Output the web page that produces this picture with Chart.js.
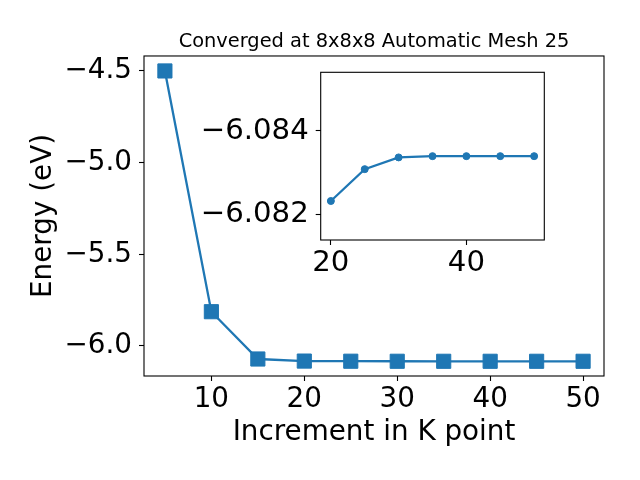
<!DOCTYPE html>
<html>
<head>
<meta charset="utf-8">
<script src="https://cdn.jsdelivr.net/npm/chart.js@4"></script>
<style>
  body { margin: 0; background: #fff; }
  #wrap { position: relative; width: 640px; height: 480px; }
  #main { position: absolute; left: 0; top: 0; }
  #inset { position: absolute; left: 180px; top: 60px; }
</style>
</head>
<body>
<div id="wrap">
  <canvas id="main" width="640" height="480"></canvas>
  <canvas id="inset" width="380" height="230"></canvas>
</div>
<script>
// DATOS
const kPoints = [5, 10, 15, 20, 25, 30, 35, 40, 45, 50];
const energies = [-4.5, -5.813, -6.071, -6.08233, -6.08309, -6.08337, -6.0834, -6.0834, -6.0834, -6.0834];
const insetKPoints = [20, 25, 30, 35, 40, 45, 50];
const insetEnergies = [-6.08233, -6.08309, -6.08337, -6.0834, -6.0834, -6.0834, -6.0834];
const mainXTicks = [10, 20, 30, 40, 50];
const mainYTicks = [-4.5, -5.0, -5.5, -6.0];
const insetXTicks = [20, 40];
const insetYTicks = [-6.084, -6.082];
// DATOS END

const azul = "#1f77b4";
Chart.defaults.font.family = "'DejaVu Sans', sans-serif";
Chart.defaults.color = "#000";

function menos(txt) {
  return String(txt).replace("-", "\u2212");
}

// marco negro alrededor del area
const marco = {
  id: "marco",
  afterDraw(chart) {
    const a = chart.chartArea;
    const ctx = chart.ctx;
    ctx.save();
    ctx.strokeStyle = "#000";
    ctx.lineWidth = 1.1;
    ctx.strokeRect(a.left, a.top, a.right - a.left, a.bottom - a.top);
    ctx.restore();
  },
};

function ejeBase(ticks, fmt, tam) {
  return {
    type: "linear",
    border: { display: false },
    grid: {
      drawOnChartArea: false,
      drawTicks: true,
      tickLength: 5,
      tickColor: "#000",
      tickWidth: 1.1,
    },
    ticks: {
      font: { size: tam },
      padding: 7,
      autoSkip: false,
      maxRotation: 0,
      callback: fmt,
    },
    afterBuildTicks: (scale) => {
      scale.ticks = ticks.map((v) => ({ value: v }));
    },
  };
}

// sin relleno extra por las etiquetas
function sinRelleno(scale) {
  scale.paddingTop = 0;
  scale.paddingBottom = 0;
  scale.paddingLeft = 0;
  scale.paddingRight = 0;
}

// PRINCIPAL
function graficoPrincipal() {
  const ejeX = ejeBase(mainXTicks, (v) => menos(v), 27.8);
  ejeX.min = 2.75;
  ejeX.max = 52.25;
  ejeX.ticks.padding = 2;
  ejeX.title = {
    display: true,
    text: "Increment in K point",
    font: { size: 27.8 },
    padding: { top: 0, bottom: 30.5 },
  };
  ejeX.afterFit = (scale) => {
    scale.height = 104;
    sinRelleno(scale);
  };

  const ejeY = ejeBase(mainYTicks, (v) => menos(v.toFixed(1)), 27.8);
  ejeY.min = -6.1637;
  ejeY.max = -4.4183;
  ejeY.title = {
    display: true,
    text: "Energy (eV)",
    font: { size: 27.8 },
    padding: { top: 26.8, bottom: 0 },
  };
  ejeY.afterFit = (scale) => {
    scale.width = 144;
    sinRelleno(scale);
  };

  const config = {
    type: "line",
    data: {
      datasets: [
        {
          data: kPoints.map((k, i) => ({ x: k, y: energies[i] })),
          borderColor: azul,
          backgroundColor: azul,
          borderWidth: 2.3,
          pointStyle: "rect",
          pointRadius: 10,
          pointBorderWidth: 1,
          pointBorderColor: azul,
          pointBackgroundColor: azul,
          tension: 0,
        },
      ],
    },
    options: {
      responsive: false,
      animation: false,
      layout: { padding: { top: 0, left: 0, right: 36, bottom: 0 } },
      plugins: {
        legend: { display: false },
        tooltip: { enabled: false },
        title: {
          display: true,
          fullSize: false,
          text: "Converged at 8x8x8 Automatic Mesh 25",
          font: { size: 19.4, weight: "normal" },
          padding: { top: 30, bottom: 2.7 },
        },
      },
      scales: { x: ejeX, y: ejeY },
    },
    plugins: [marco],
  };
  new Chart(document.getElementById("main"), config);
}

// INSET
function graficoInset() {
  const ejeX = ejeBase(insetXTicks, (v) => menos(v), 29.2);
  ejeX.min = 18.5;
  ejeX.max = 51.5;
  ejeX.ticks.padding = 1;
  ejeX.afterFit = (scale) => {
    scale.height = 50;
    sinRelleno(scale);
  };

  const ejeY = ejeBase(insetYTicks, (v) => menos(v.toFixed(3)), 29.2);
  ejeY.min = -6.0854;
  ejeY.max = -6.0814;
  ejeY.reverse = true;
  ejeY.afterFit = (scale) => {
    scale.width = 140.7;
    sinRelleno(scale);
  };

  const config = {
    type: "line",
    data: {
      datasets: [
        {
          data: insetKPoints.map((k, i) => ({ x: k, y: insetEnergies[i] })),
          borderColor: azul,
          backgroundColor: azul,
          borderWidth: 2.3,
          pointStyle: "circle",
          pointRadius: 3.5,
          pointBorderWidth: 1,
          pointBorderColor: azul,
          pointBackgroundColor: azul,
          tension: 0,
        },
      ],
    },
    options: {
      responsive: false,
      animation: false,
      layout: { padding: { top: 12.3, left: 0, right: 15.7, bottom: 0 } },
      plugins: {
        legend: { display: false },
        tooltip: { enabled: false },
      },
      scales: { x: ejeX, y: ejeY },
    },
    plugins: [marco],
  };
  new Chart(document.getElementById("inset"), config);
}

graficoPrincipal();
graficoInset();
</script>
</body>
</html>
